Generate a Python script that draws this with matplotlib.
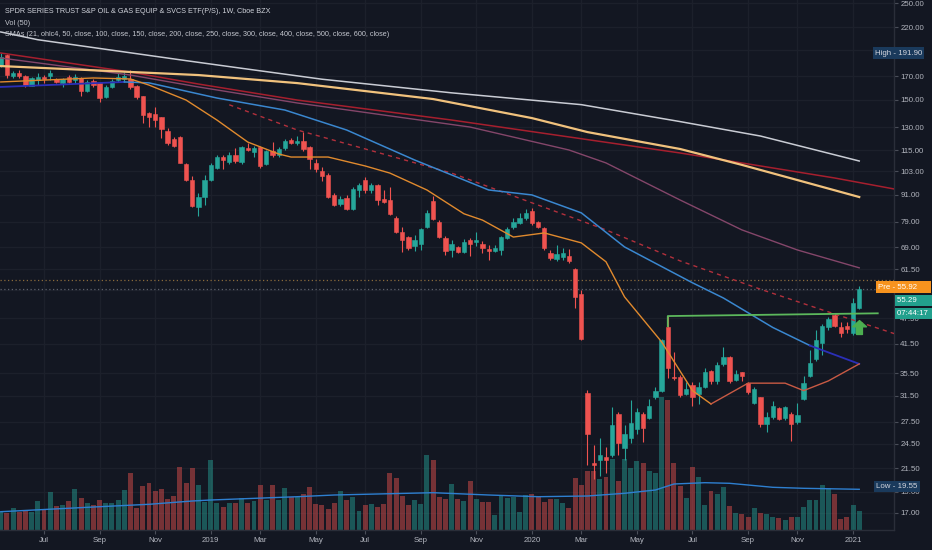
import numpy as np
import matplotlib
matplotlib.use("Agg")
import matplotlib.pyplot as plt
from matplotlib import font_manager
from matplotlib import transforms as mtrans
from matplotlib.path import Path

# ---------------- data (weekly bars, bar 0 = week of 14 May 2018, bar 139 = week of 11 Jan 2021) -------------
opens = [180.3, 190.0, 170.0, 172.8, 170.1, 161.4, 166.6, 169.3, 170.1, 167.5,
         163.9, 169.3, 166.6, 168.4, 157.2, 165.7, 163.9, 152.3, 160.6, 166.6,
         167.5, 167.5, 161.4, 153.1, 139.9, 139.2, 137.0, 127.3, 122.1, 123.4,
         107.0, 98.3, 85.3, 89.9, 98.3, 104.8, 111.0, 108.2, 112.2, 108.2,
         116.4, 114.0, 117.1, 107.0, 114.6, 112.2, 116.4, 121.4, 119.5, 120.8,
         117.1, 107.6, 103.1, 100.9, 90.9, 86.7, 89.4, 84.4, 93.3, 98.3,
         93.3, 95.8, 89.0, 88.5, 80.5, 74.8, 72.8, 69.5, 70.2, 76.8,
         88.0, 78.8, 72.5, 68.0, 69.1, 67.3, 71.7, 70.9, 70.2, 68.4,
         67.6, 68.0, 72.5, 76.8, 78.4, 80.5, 83.6, 78.8, 76.4, 67.0,
         64.9, 65.6, 65.9, 61.5, 54.0, 32.0, 22.1, 22.5, 22.8, 23.1,
         28.7, 24.0, 25.3, 26.4, 28.6, 28.1, 31.4, 32.4, 45.2, 34.9,
         34.8, 31.8, 33.4, 31.8, 33.1, 35.9, 34.0, 37.3, 38.7, 34.3,
         35.7, 33.8, 30.3, 31.3, 27.2, 28.2, 29.6, 28.1, 28.7, 27.4,
         31.0, 35.0, 38.3, 41.7, 45.2, 48.3, 45.2, 45.5, 43.9, 50.2]
highs = [191.9, 191.0, 174.7, 175.6, 171.0, 169.3, 172.8, 171.0, 175.6, 168.4,
         168.4, 171.0, 171.9, 169.3, 166.6, 167.5, 164.9, 162.2, 167.5, 172.8,
         173.7, 175.6, 162.2, 153.5, 140.7, 144.5, 137.4, 129.4, 123.4, 124.0,
         107.6, 100.4, 91.9, 101.0, 107.6, 112.2, 112.2, 114.0, 116.4, 117.8,
         119.5, 117.8, 117.8, 115.2, 120.1, 117.1, 122.1, 122.7, 124.0, 126.6,
         117.5, 109.9, 105.3, 102.0, 91.9, 90.4, 90.9, 94.8, 96.8, 99.9,
         96.8, 96.3, 93.3, 94.8, 81.3, 76.8, 73.2, 73.6, 76.4, 84.0,
         90.4, 79.6, 73.2, 71.7, 69.5, 72.1, 72.5, 74.8, 71.3, 69.8,
         69.8, 73.2, 76.8, 80.5, 82.7, 84.4, 84.9, 79.2, 76.8, 68.0,
         69.8, 68.7, 68.4, 61.9, 55.1, 32.5, 24.3, 25.3, 24.1, 29.7,
         28.9, 27.0, 30.8, 29.6, 28.9, 31.0, 33.0, 42.6, 48.0, 39.7,
         35.2, 33.9, 33.9, 33.9, 36.5, 36.1, 37.7, 40.7, 38.9, 36.1,
         35.8, 33.9, 33.1, 31.4, 28.9, 30.6, 29.7, 29.9, 28.9, 30.4,
         35.0, 40.1, 44.6, 46.0, 47.8, 48.8, 46.4, 46.4, 52.8, 56.3]
lows = [178.4, 168.4, 168.4, 168.4, 160.6, 161.0, 162.2, 163.9, 166.6, 163.9,
        160.6, 163.9, 163.9, 153.1, 156.4, 160.6, 148.3, 151.5, 159.7, 164.9,
        164.9, 158.9, 150.7, 132.8, 130.0, 130.0, 122.7, 118.3, 117.1, 107.3,
        97.8, 85.3, 81.3, 86.3, 97.8, 104.2, 104.2, 107.0, 107.6, 107.0,
        114.6, 111.0, 104.8, 106.5, 111.0, 111.0, 115.2, 118.9, 118.3, 114.6,
        104.2, 102.6, 97.8, 89.4, 85.7, 85.7, 84.0, 84.0, 89.9, 91.9,
        91.9, 86.2, 87.2, 81.9, 74.4, 67.3, 68.0, 67.6, 68.0, 76.4,
        79.6, 72.5, 66.2, 65.6, 67.0, 67.0, 65.9, 69.5, 67.0, 64.5,
        67.3, 66.2, 72.1, 76.0, 78.0, 79.6, 77.6, 76.4, 68.0, 64.5,
        64.2, 64.5, 63.5, 50.1, 42.3, 21.9, 20.3, 20.7, 21.0, 22.8,
        23.1, 22.5, 24.6, 25.8, 24.7, 27.9, 31.0, 32.1, 34.7, 34.3,
        31.3, 31.6, 29.9, 30.2, 32.9, 33.6, 33.6, 36.9, 33.8, 34.0,
        34.0, 31.9, 30.2, 26.7, 26.0, 27.9, 27.7, 27.7, 24.9, 27.2,
        30.8, 34.8, 37.9, 39.1, 44.6, 45.3, 42.9, 43.8, 43.5, 49.9]
closes = [188.0, 171.0, 172.8, 170.1, 162.2, 168.4, 169.3, 167.5, 172.8, 164.9,
          167.5, 164.9, 169.3, 157.2, 164.9, 162.2, 151.5, 160.6, 165.7, 169.3,
          170.1, 160.6, 152.3, 138.5, 137.0, 134.9, 128.7, 119.5, 117.8, 107.6,
          98.3, 85.7, 89.9, 98.3, 106.5, 111.0, 109.3, 112.2, 108.7, 117.1,
          115.2, 116.4, 105.9, 114.6, 112.2, 115.8, 120.8, 119.5, 120.8, 115.8,
          109.9, 104.2, 100.4, 89.9, 86.2, 89.0, 84.4, 93.8, 95.8, 93.3,
          95.8, 88.5, 87.6, 82.3, 74.8, 71.7, 68.7, 71.7, 76.0, 82.7,
          80.0, 72.8, 67.6, 70.2, 67.3, 70.9, 70.2, 71.7, 68.7, 67.6,
          68.7, 72.8, 76.0, 78.8, 80.5, 82.7, 78.4, 76.8, 68.7, 65.2,
          66.6, 67.0, 64.2, 53.1, 42.5, 25.8, 21.9, 23.1, 22.5, 27.1,
          24.6, 25.8, 27.3, 29.0, 26.6, 29.9, 32.4, 42.3, 36.5, 34.7,
          31.6, 32.7, 31.3, 33.1, 35.7, 34.0, 37.1, 38.7, 34.0, 35.4,
          35.0, 32.1, 32.7, 27.2, 28.2, 29.8, 27.9, 29.7, 27.2, 28.5,
          33.7, 37.5, 42.3, 45.5, 47.3, 45.5, 44.0, 44.8, 51.4, 55.29]
volume = [1.83, 1.73, 2.17, 1.83, 1.93, 1.83, 2.93, 2.00, 3.83, 2.40,
          2.50, 2.93, 4.10, 3.23, 2.67, 2.50, 2.97, 2.67, 2.67, 2.97,
          4.00, 5.67, 2.17, 4.40, 4.67, 3.90, 4.07, 3.07, 3.43, 6.33,
          4.73, 6.17, 4.50, 2.83, 7.00, 2.67, 2.33, 2.73, 2.73, 3.17,
          2.67, 2.93, 4.50, 3.00, 4.50, 3.00, 4.23, 3.33, 3.33, 3.60,
          4.27, 2.57, 2.50, 2.07, 2.73, 3.90, 3.00, 3.33, 1.90, 2.50,
          2.60, 2.33, 2.60, 5.67, 5.17, 3.40, 2.47, 3.00, 2.57, 7.50,
          7.00, 3.33, 3.10, 4.60, 3.10, 2.93, 4.93, 3.07, 2.83, 2.83,
          1.50, 3.40, 3.17, 3.27, 1.83, 3.50, 3.60, 3.33, 2.83, 3.07,
          3.10, 2.73, 2.17, 5.23, 4.50, 5.93, 5.93, 5.10, 5.33, 7.07,
          4.93, 7.07, 6.17, 6.90, 6.73, 5.90, 5.73, 13.33, 13.00, 6.73,
          4.40, 3.17, 6.27, 5.27, 2.50, 3.90, 3.60, 4.33, 2.40, 1.67,
          1.60, 1.33, 2.17, 1.67, 1.60, 1.33, 1.17, 1.00, 1.33, 1.27,
          2.33, 3.00, 3.00, 4.50, 4.17, 3.60, 1.07, 1.27, 2.50, 1.90]

# volume SMA(50)
vol_sma_idx = [0, 16, 24, 31, 34, 48, 54, 70, 79, 87, 95, 101, 106, 109, 114, 118, 125, 130, 139]
vol_sma_val = [1.83, 2.33, 2.57, 2.90, 3.00, 3.33, 3.50, 3.73, 3.50, 3.33, 3.40, 3.67, 4.00, 4.60, 4.73,
               4.67, 4.27, 4.17, 4.07]

# moving averages / drawings (bar index, price)
sma_white_idx = [0, 6, 30, 38, 52, 73, 94, 110, 123, 139]
sma_white_val = [214.6, 206.0, 184.5, 178.0, 167.3, 155.7, 146.3, 133.8, 124.0, 108.7]
sma_yellow_idx = [0, 32, 48, 70, 86, 95, 110, 120, 129, 139]
sma_yellow_val = [179.3, 171.0, 163.9, 150.7, 136.3, 126.6, 115.8, 106.5, 98.3, 89.9]
sma_red_idx = [0, 21, 32, 48, 73, 92, 110, 123, 135, 145]
sma_red_val = [192.1, 173.7, 163.1, 149.9, 134.9, 123.4, 113.4, 105.9, 99.4, 93.6]
sma_mauve_idx = [0, 21, 32, 48, 76, 92, 98, 110, 120, 129, 139]
sma_mauve_val = [187.1, 171.0, 160.6, 147.6, 130.0, 115.2, 107.6, 88.5, 75.6, 68.0, 61.9]
sma_blue_idx = [0, 20, 24, 35, 46, 56, 67, 73, 79, 86, 94, 101, 105, 112, 117, 125, 131, 139]
sma_blue_val = [160.6, 164.9, 164.1, 151.5, 142.2, 128.0, 109.3, 101.0, 93.3, 90.9, 82.7, 69.1, 64.5,
                57.2, 52.8, 45.2, 41.1, 37.3]
sma_orange_idx = [0, 15, 21, 24, 30, 35, 40, 45, 47, 53, 59, 63, 69, 75, 78, 83, 88, 94, 98, 101,
                  107, 110, 112, 115, 121, 127, 130, 134, 139]
sma_orange_val = [164.9, 168.4, 167.5, 162.2, 149.9, 134.9, 120.1, 112.8, 111.0, 111.0, 105.9, 102.0,
                  93.3, 82.3, 79.6, 72.8, 74.4, 70.6, 63.9, 53.1, 41.9, 35.9, 32.4, 30.2, 33.7, 33.7,
                  32.4, 34.1, 37.3]
dash_idx = [37, 48, 73, 86, 98, 110, 123, 133, 145]
dash_val = [146.2, 128.0, 102.0, 87.2, 75.6, 64.2, 55.3, 49.6, 43.6]
green_line_idx = [108, 108, 142]
green_line_val = [45.5, 48.0, 48.7]
arrow_idx = 139
arrow_price = 45.3

high_label = 191.90
low_label = 19.55
pre_price = 55.92
last_price = 55.29
pre_dotted = 57.9
countdown = "07:44:17"

x_tick_pos = [7, 16, 25, 34, 42, 51, 59, 68, 77, 86, 94, 103, 112, 121, 129, 138]
x_tick_labels = ["Jul", "Sep", "Nov", "2019", "Mar", "May", "Jul", "Sep", "Nov", "2020",
                 "Mar", "May", "Jul", "Sep", "Nov", "2021"]
price_ticks = [250, 220, 170, 150, 130, 115, 103, 91, 79, 69, 61.5, 47.5, 41.5, 35.5,
               31.5, 27.5, 24.5, 21.5, 19, 17]
hidden_grid = [195, 55]   # grid rows whose labels sit under the High / Pre badges

title = "SPDR SERIES TRUST S&P OIL & GAS EQUIP & SVCS ETF(P/S), 1W, Cboe BZX"
line2 = "Vol (50)"
line3 = ("SMAs (21, ohlc4, 50, close, 100, close, 150, close, 200, close, 250, close, "
         "300, close, 400, close, 500, close, 600, close)")

# ---------------- style ----------------
BG = "#131722"
GRID = "#1c202b"
AXC = "#2a2e39"
TXT = "#b2b5be"
BULL = "#26a69a"
BEAR = "#ef5350"

avail = {f.name for f in font_manager.fontManager.ttflist}
if "Liberation Sans Narrow" in avail:
    FONT, FS, HFS = "Liberation Sans Narrow", 6.7, 6.1
else:
    FONT, FS, HFS = "Liberation Sans", 5.7, 5.2
plt.rcParams["font.family"] = [FONT, "DejaVu Sans"]

W, H = 932, 550
fig = plt.figure(figsize=(W / 100, H / 100), dpi=100, facecolor=BG)
rect = [0, 20 / H, 894 / W, 530 / H]
ax_v = fig.add_axes(rect)
ax = fig.add_axes(rect, sharex=ax_v)
ax.patch.set_visible(False)
ax_v.set_facecolor(BG)
ax.set_yscale("log")

o, hi, lo, c = map(np.array, (opens, highs, lows, closes))
idx = np.arange(len(o))
up = c >= o
cols = np.where(up, BULL, BEAR)

# grid (on volume axes, behind everything)
gtr = mtrans.blended_transform_factory(ax_v.transAxes, ax.transData)
for p in price_ticks + hidden_grid:
    ax_v.plot([0, 1], [p, p], transform=gtr, color=GRID, lw=0.9, zorder=0)
for xp in x_tick_pos:
    ax_v.axvline(xp, color=GRID, lw=0.9, zorder=0)

# volume
ax_v.bar(idx, volume, width=0.8, color=cols, alpha=0.45, linewidth=0, zorder=1)
ax_v.plot(vol_sma_idx, vol_sma_val, color="#2e7fd0", lw=1.0, zorder=2)

# dotted price lines
ax.axhline(pre_dotted, color="#8a6a3a", ls=(0, (1, 2)), lw=0.9, zorder=1)
ax.axhline(last_price, color="#5d616b", ls=(0, (1, 2)), lw=0.9, zorder=1)

# candles
ax.vlines(idx, lo, hi, colors=cols, linewidth=0.8, zorder=4)
blo = np.minimum(o, c)
bhi = np.maximum(o, c)
ax.bar(idx, bhi - blo, bottom=blo, width=0.7, color=cols, edgecolor=cols, linewidth=0.4, zorder=5)

# moving averages
ax.plot(sma_white_idx, sma_white_val, color="#c9ccd4", lw=1.1, zorder=6)
ax.plot(sma_red_idx, sma_red_val, color="#a61f2e", lw=1.1, zorder=6)
ax.plot(sma_mauve_idx, sma_mauve_val, color="#84466a", lw=1.0, zorder=6)
ax.plot(sma_yellow_idx, sma_yellow_val, color="#f1c27d", lw=1.6, zorder=6)
ax.plot(dash_idx, dash_val, color="#b2303c", lw=1.0, ls=(0, (3, 3)), zorder=6)

bidx = np.array(sma_blue_idx)
bval = np.array(sma_blue_val)
m1 = bidx <= 20
m2 = (bidx >= 20) & (bidx <= 131)
m3 = bidx >= 131
ax.plot(bidx[m1], bval[m1], color="#2b2fb8", lw=1.3, zorder=6)
ax.plot(bidx[m2], bval[m2], color="#3a87cf", lw=1.1, zorder=6)
ax.plot(bidx[m3], bval[m3], color="#2b2fb8", lw=1.3, zorder=6)

oidx = np.array(sma_orange_idx)
oval = np.array(sma_orange_val)
ax.plot(oidx[oidx <= 115], oval[oidx <= 115], color="#e08a2e", lw=1.0, zorder=6)
ax.plot(oidx[oidx >= 115], oval[oidx >= 115], color="#c95a44", lw=1.0, zorder=6)

ax.plot(green_line_idx, green_line_val, color="#5cb85c", lw=1.3, zorder=7)

arrow = Path([(-1, 0.1), (0, 1), (1, 0.1), (0.42, 0.1), (0.42, -1), (-0.42, -1), (-0.42, 0.1), (-1, 0.1)],
             [Path.MOVETO] + [Path.LINETO] * 6 + [Path.CLOSEPOLY])
ax.plot([arrow_idx], [arrow_price], marker=arrow, ms=10, color="#4caf50", mec="#4caf50", zorder=8)

# axes styling
ax.set_ylim(15.54, 254.0)
ax_v.set_ylim(0, 53)
ax.set_xlim(-0.125, 144.63)
for s in ("left", "top"):
    ax.spines[s].set_visible(False)
for s in ("right", "bottom"):
    ax.spines[s].set_color(AXC)
    ax.spines[s].set_linewidth(1.0)
for s in ax_v.spines.values():
    s.set_visible(False)
ax_v.set_yticks([])
ax_v.tick_params(axis="x", bottom=False, labelbottom=False)

ax.yaxis.tick_right()
ax.yaxis.set_major_locator(matplotlib.ticker.FixedLocator(price_ticks))
ax.yaxis.set_minor_locator(matplotlib.ticker.NullLocator())
ax.set_yticklabels([f"{p:.2f}" for p in price_ticks])
ax.set_xticks(x_tick_pos)
ax.set_xticklabels(x_tick_labels)
ax.tick_params(axis="y", which="major", direction="out", length=3, width=0.8, color="#4a4e59",
               labelcolor=TXT, labelsize=FS, pad=1.5)
ax.tick_params(axis="x", which="major", direction="out", length=3, width=0.8, color="#4a4e59",
               labelcolor=TXT, labelsize=FS, pad=2)

# header text
fig.text(5 / W, 1 - 11.5 / H, title, color="#d1d4dc", fontsize=HFS, va="center", ha="left")
fig.text(5 / W, 1 - 23.3 / H, line2, color="#c3c6ce", fontsize=HFS, va="center", ha="left")
fig.text(5 / W, 1 - 35 / H, line3, color="#c3c6ce", fontsize=HFS, va="center", ha="left")

# price-scale labels
tfd = mtrans.blended_transform_factory(fig.transFigure, ax.transData)
box = dict(boxstyle="square,pad=0.28", ec="none")
ax.text(875 / W, high_label, f"High - {high_label:.2f}", transform=tfd, color="#d1d4dc", fontsize=FS,
        va="center", ha="left", bbox=dict(box, fc="#1a3a5c"), clip_on=False, zorder=20)
ax.text(876 / W, low_label, f"Low - {low_label:.2f}", transform=tfd, color="#d1d4dc", fontsize=FS,
        va="center", ha="left", bbox=dict(box, fc="#1a3a5c"), clip_on=False, zorder=20)
ax.text(878 / W, pre_price, f"Pre - {pre_price:.2f}     ", transform=tfd, color="white", fontsize=FS,
        va="center", ha="left", bbox=dict(box, fc="#f7931e"), clip_on=False, zorder=21)
t1 = mtrans.offset_copy(tfd, fig=fig, x=0, y=-11, units="dots")
ax.text(897 / W, last_price, f"{last_price:.2f}       ", transform=t1, color="white", fontsize=FS,
        va="center", ha="left", bbox=dict(box, fc="#22a08d"), clip_on=False, zorder=21)
t2 = mtrans.offset_copy(tfd, fig=fig, x=0, y=-24, units="dots")
ax.text(897 / W, last_price, countdown + "  ", transform=t2, color="white", fontsize=FS,
        va="center", ha="left", bbox=dict(box, fc="#22a08d"), clip_on=False, zorder=21)

fig.savefig("out.png", dpi=100, facecolor=BG)
